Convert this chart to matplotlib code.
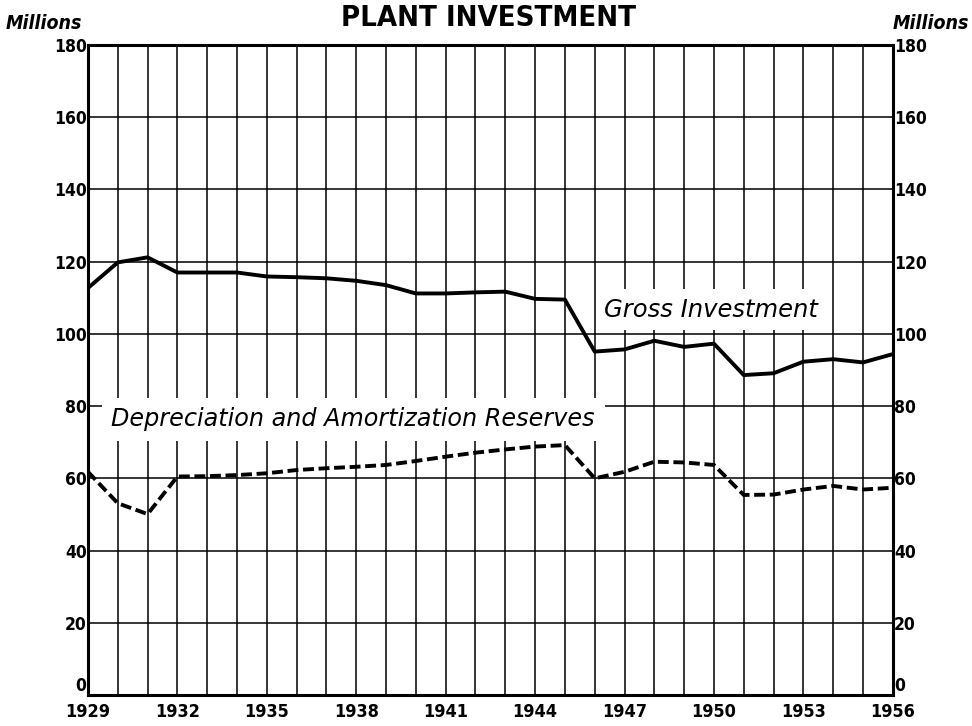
import matplotlib
matplotlib.use('Agg')
import matplotlib.pyplot as plt
from matplotlib.ticker import MultipleLocator

# data (millions of dollars)
years = list(range(1929, 1957))
gross_investment = [112.7, 119.8, 121.2, 117.0, 117.0, 117.0, 115.9, 115.7, 115.4, 114.7,
                    113.5, 111.2, 111.2, 111.5, 111.7, 109.7, 109.5, 95.1, 95.7, 98.1,
                    96.4, 97.3, 88.6, 89.1, 92.3, 93.0, 92.1, 94.4]
depreciation = [61.8, 53.1, 50.1, 60.5, 60.6, 60.9, 61.4, 62.3, 62.8, 63.2,
                63.7, 64.8, 66.0, 67.1, 68.0, 68.8, 69.2, 60.0, 61.8, 64.6,
                64.4, 63.7, 55.4, 55.5, 56.9, 57.9, 56.9, 57.4]
year_labels = list(range(1929, 1957, 3))
y_ticks = list(range(0, 181, 20))

plt.rcParams['font.family'] = ['DejaVu Sans']
plt.rcParams['font.stretch'] = 'condensed'

fig = plt.figure(figsize=(9.72, 7.26), dpi=100)
ax = fig.add_axes([0.0905, 0.0427, 0.828, 0.8953])

ax.set_xlim(1929, 1956)
ax.set_ylim(0, 180)
ax.set_xticks(year_labels)
ax.xaxis.set_minor_locator(MultipleLocator(1))
ax.set_yticks(y_ticks)
ax.grid(True, which='both', axis='x', color='black', lw=1.1)
ax.grid(True, which='major', axis='y', color='black', lw=1.1)
ax.set_axisbelow(True)

ax.tick_params(which='both', length=0)
ax.tick_params(axis='x', pad=6, labelsize=13)
ax.tick_params(axis='y', right=True, labelright=True, pad=1, labelsize=12.5)
for lbl in ax.get_xticklabels() + ax.get_yticklabels():
    lbl.set_fontweight('bold')
for t in ax.yaxis.get_major_ticks():
    t.label2.set_fontweight('bold')
# the zero labels sit just above the baseline
zero = ax.yaxis.get_major_ticks()[0]
zero.label1.set_va('bottom')
zero.label2.set_va('bottom')

for s in ax.spines.values():
    s.set_linewidth(2.2)
    s.set_color('black')

ax.plot(years, gross_investment, color='black', lw=2.8, zorder=4, solid_joinstyle='round')
ax.plot(years, depreciation, color='black', lw=2.8, zorder=4, dashes=(2.8, 1.2))

ax.text(1937.9, 76.3, 'Depreciation and Amortization Reserves', ha='center', va='center',
        fontsize=17.2, style='italic', fontstretch='normal', zorder=3,
        bbox=dict(facecolor='white', edgecolor='none', boxstyle='square,pad=0.4'))
ax.text(1949.9, 106.7, 'Gross Investment', ha='center', va='center',
        fontsize=17.5, style='italic', fontstretch='normal', zorder=3,
        bbox=dict(facecolor='white', edgecolor='none', boxstyle='square,pad=0.35'))

fig.text(0.503, 0.975, 'PLANT INVESTMENT', ha='center', va='center', fontsize=21,
         fontweight='bold')
fig.text(0.006, 0.968, 'Millions', ha='left', va='center', fontsize=14,
         style='italic', fontweight='bold')
fig.text(0.997, 0.968, 'Millions', ha='right', va='center', fontsize=14,
         style='italic', fontweight='bold')

fig.savefig('out.png', dpi=100)
